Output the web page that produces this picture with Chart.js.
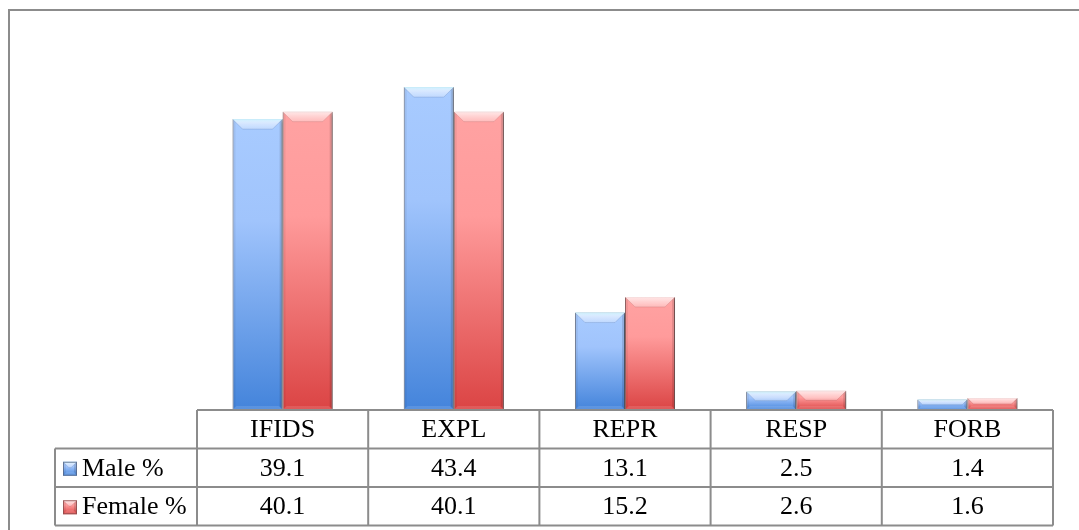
<!DOCTYPE html>
<html>
<head>
<meta charset="utf-8">
<title>Male and Female %</title>
<script src="https://cdn.jsdelivr.net/npm/chart.js@4/dist/chart.umd.min.js"></script>
<style>
  html, body { margin: 0; padding: 0; background: #ffffff; overflow: hidden; }
  #wrap { width: 1079px; height: 530px; }
</style>
</head>
<body>
<div id="wrap"><canvas id="chart" width="1079" height="530"></canvas></div>
<script>
// Categories and series values
const categories = ['IFIDS', 'EXPL', 'REPR', 'RESP', 'FORB'];
const seriesNames = ['Male %', 'Female %'];
const maleValues = [39.1, 43.4, 13.1, 2.5, 1.4];
const femaleValues = [40.1, 40.1, 15.2, 2.6, 1.6];
const axisMax = 50;

// Colour sets for the bevelled bars
const palettes = [
  { light: '#a8cbff', mid: '#a0c4fc', dark: '#4484db', edge: 'rgba(85,100,130,0.8)', hi: 'rgba(200,240,255,1)', line: 'rgba(60,90,140,0.18)' },
  { light: '#ffa2a2', mid: '#ff9b9b', dark: '#db4444', edge: 'rgba(135,75,75,0.8)', hi: 'rgba(255,226,226,1)', line: 'rgba(140,60,60,0.18)' }
];

const FONT = '26px "Liberation Serif", "Times New Roman", serif';
const GRID = '#8c8c8c';

function barGradient(ctx, top, bottom, pal) {
  const g = ctx.createLinearGradient(0, top, 0, bottom);
  g.addColorStop(0, pal.light);
  g.addColorStop(0.35, pal.mid);
  g.addColorStop(1, pal.dark);
  return g;
}

function bgScript(pal) {
  return (c) => {
    const chart = c.chart;
    if (!chart.chartArea || c.type !== 'data') return pal.light;
    const ys = chart.scales.y;
    const top = ys.getPixelForValue(c.raw);
    const bottom = ys.getPixelForValue(0);
    if (bottom - top < 1) return pal.dark;
    return barGradient(chart.ctx, top, bottom, pal);
  };
}

// Bevel faces on top of a filled rectangle
function drawBevel(ctx, l, t, r, b, pal, size) {
  const h = b - t, w = r - l;
  const s = Math.max(1, Math.min(size, h / 2, w / 2));
  const sb = Math.max(1, Math.min(4, h / 3));
  ctx.save();
  // top face
  let g = ctx.createLinearGradient(0, t, 0, t + s);
  g.addColorStop(0, pal.hi);
  g.addColorStop(0.4, 'rgba(255,255,255,0.55)');
  g.addColorStop(1, 'rgba(255,255,255,0.28)');
  ctx.fillStyle = g;
  ctx.beginPath();
  ctx.moveTo(l, t); ctx.lineTo(r, t); ctx.lineTo(r - s, t + s); ctx.lineTo(l + s, t + s); ctx.closePath();
  ctx.fill();
  // creases along the top face
  ctx.strokeStyle = pal.line;
  ctx.lineWidth = 1;
  ctx.beginPath();
  ctx.moveTo(l + 1, t + 1); ctx.lineTo(l + s, t + s); ctx.lineTo(r - s, t + s); ctx.lineTo(r - 1, t + 1);
  ctx.stroke();
  // left edge
  ctx.fillStyle = 'rgba(0,0,0,0.06)';
  ctx.beginPath();
  ctx.moveTo(l, t); ctx.lineTo(l + 3, t + 3); ctx.lineTo(l + 3, b - sb); ctx.lineTo(l, b); ctx.closePath();
  ctx.fill();
  // right edge
  ctx.fillStyle = 'rgba(0,0,0,0.12)';
  ctx.beginPath();
  ctx.moveTo(r, t); ctx.lineTo(r - 3, t + 3); ctx.lineTo(r - 3, b - sb); ctx.lineTo(r, b); ctx.closePath();
  ctx.fill();
  // bottom edge
  ctx.fillStyle = 'rgba(255,255,255,0.12)';
  ctx.beginPath();
  ctx.moveTo(l, b); ctx.lineTo(r, b); ctx.lineTo(r - sb, b - sb); ctx.lineTo(l + sb, b - sb); ctx.closePath();
  ctx.fill();
  ctx.restore();
}

// White page, outer frame
const framePlugin = {
  id: 'frame',
  beforeDraw(chart) {
    const ctx = chart.ctx;
    ctx.save();
    ctx.fillStyle = '#ffffff';
    ctx.fillRect(0, 0, chart.width, chart.height);
    ctx.strokeStyle = GRID;
    ctx.lineWidth = 2;
    ctx.strokeRect(9, 10, chart.width + 20, chart.height + 20);
    ctx.restore();
  }
};

// Soft shadow under the bars, bevel faces over them
const bevelPlugin = {
  id: 'bevel',
  beforeDatasetsDraw(chart) {
    const ctx = chart.ctx;
    ctx.save();
    ctx.shadowColor = 'rgba(0,0,0,0.35)';
    ctx.shadowBlur = 4;
    ctx.shadowOffsetX = 2;
    ctx.shadowOffsetY = 1;
  },
  afterDatasetsDraw(chart) {
    const ctx = chart.ctx;
    ctx.restore();
    chart.data.datasets.forEach((ds, di) => {
      const meta = chart.getDatasetMeta(di);
      meta.data.forEach((el) => {
        const p = el.getProps(['x', 'y', 'base', 'width'], true);
        drawBevel(ctx, p.x - p.width / 2, p.y, p.x + p.width / 2, p.base, palettes[di], 10);
      });
    });
  }
};

// Data table under the plot: category header row, one row per series
const tablePlugin = {
  id: 'dataTable',
  afterDraw(chart) {
    const ctx = chart.ctx;
    const xs = chart.scales.x;
    const area = chart.chartArea;
    const n = chart.data.labels.length;
    const colW = (area.right - area.left) / n;
    const rowH = 38.5;
    const top = area.bottom;
    const keyLeft = 55;
    const tableBottom = top + rowH * (1 + chart.data.datasets.length);

    ctx.save();
    ctx.strokeStyle = GRID;
    ctx.lineWidth = 2;
    ctx.beginPath();
    // horizontal lines
    ctx.moveTo(area.left, top); ctx.lineTo(area.right, top);
    for (let r = 1; r <= chart.data.datasets.length + 1; r++) {
      const y = top + rowH * r;
      ctx.moveTo(keyLeft, y); ctx.lineTo(area.right, y);
    }
    // vertical lines
    for (let c = 0; c <= n; c++) {
      const x = area.left + colW * c;
      ctx.moveTo(x, top); ctx.lineTo(x, tableBottom);
    }
    ctx.moveTo(keyLeft, top + rowH); ctx.lineTo(keyLeft, tableBottom);
    ctx.stroke();

    ctx.fillStyle = '#000000';
    ctx.font = FONT;
    ctx.textBaseline = 'middle';
    ctx.textAlign = 'center';
    chart.data.labels.forEach((lab, i) => {
      ctx.fillText(lab, xs.getPixelForValue(i), top + rowH / 2 + 1);
    });
    chart.data.datasets.forEach((ds, di) => {
      const cy = top + rowH * (di + 1) + rowH / 2 + 1;
      ctx.textAlign = 'center';
      ds.data.forEach((v, i) => {
        ctx.fillText(v.toFixed(1), xs.getPixelForValue(i), cy);
      });
      // legend key
      const pal = palettes[di];
      const kl = 63, kt = cy - 7, ks = 14;
      ctx.fillStyle = barGradient(ctx, kt, kt + ks, pal);
      ctx.fillRect(kl, kt, ks, ks);
      drawBevel(ctx, kl, kt, kl + ks, kt + ks, pal, 6);
      ctx.strokeStyle = pal.edge;
      ctx.lineWidth = 1;
      ctx.strokeRect(kl + 0.5, kt + 0.5, ks - 1, ks - 1);
      ctx.fillStyle = '#000000';
      ctx.textAlign = 'left';
      ctx.fillText(ds.label, 82, cy);
    });
    ctx.restore();
  }
};

new Chart(document.getElementById('chart'), {
  type: 'bar',
  data: {
    labels: categories,
    datasets: [
      {
        label: seriesNames[0],
        data: maleValues,
        backgroundColor: bgScript(palettes[0]),
        borderColor: palettes[0].edge,
        borderWidth: 1,
        categoryPercentage: 0.585,
        barPercentage: 1.0
      },
      {
        label: seriesNames[1],
        data: femaleValues,
        backgroundColor: bgScript(palettes[1]),
        borderColor: palettes[1].edge,
        borderWidth: 1,
        categoryPercentage: 0.585,
        barPercentage: 1.0
      }
    ]
  },
  options: {
    responsive: false,
    animation: false,
    layout: { padding: { left: 197, right: 26, top: 38, bottom: 120 } },
    plugins: {
      legend: { display: false },
      tooltip: { enabled: false },
      title: { display: false }
    },
    scales: {
      x: { display: false, grid: { display: false } },
      y: { display: false, min: 0, max: axisMax, grid: { display: false } }
    }
  },
  plugins: [framePlugin, bevelPlugin, tablePlugin]
});
</script>
</body>
</html>
